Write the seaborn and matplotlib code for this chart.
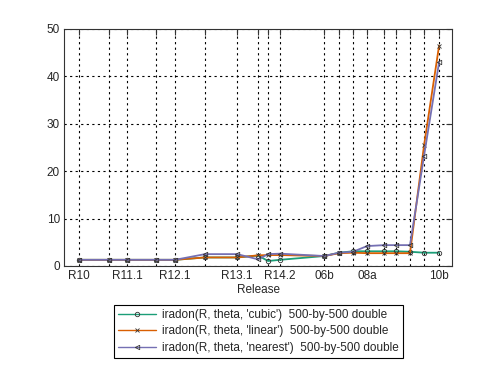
import matplotlib
matplotlib.use("Agg")
import matplotlib.pyplot as plt
import seaborn as sns
import numpy as np

# Release dates (decimal years) for each measured release
release_x = [1998.50, 1999.50, 2000.10, 2001.07, 2001.70, 2002.70, 2003.77,
             2004.47, 2004.80, 2005.20, 2006.67, 2007.17, 2007.63, 2008.10,
             2008.67, 2009.07, 2009.53, 2010.00, 2010.50]
tick_labels = ["R10", "", "R11.1", "", "R12.1", "", "R13.1", "", "", "R14.2",
               "06b", "", "", "08a", "", "", "", "", "10b"]

cubic = [1.3, 1.3, 1.3, 1.3, 1.3, 1.8, 1.8, 2.2, 1.05, 1.3, 2.1, 2.8, 3.1,
         3.1, 3.1, 3.1, 3.0, 2.8, 2.8]
linear = [1.3, 1.3, 1.3, 1.3, 1.3, 1.8, 1.8, 2.25, 2.3, 2.3, 2.1, 2.7, 2.8,
          2.7, 2.7, 2.7, 2.7, 25.5, 46.5]
nearest = [1.3, 1.3, 1.3, 1.3, 1.3, 2.5, 2.5, 1.4, 2.5, 2.6, 2.1, 2.8, 3.0,
           4.2, 4.4, 4.4, 4.4, 23.3, 43.0]

series_names = ["iradon(R, theta, 'cubic')  500-by-500 double",
                "iradon(R, theta, 'linear')  500-by-500 double",
                "iradon(R, theta, 'nearest')  500-by-500 double"]

sns.set_style("white")
plt.rcParams['font.family'] = ['Liberation Sans', 'DejaVu Sans']
plt.rcParams['font.size'] = 8

fig = plt.figure(figsize=(5.0, 3.76), dpi=100)
ax = fig.add_axes([0.128, 0.2926, 0.776, 0.6304])

styles = [
    (cubic, "#1b9e77", "o", 3.2),
    (linear, "#d95f02", "x", 3.2),
    (nearest, "#7570b3", "<", 3.2),
]
for (vals, col, mk, ms), name in zip(styles, series_names):
    sns.lineplot(x=release_x, y=vals, ax=ax, color=col, linewidth=1.3,
                 marker=mk, markersize=ms, markerfacecolor="none",
                 markeredgecolor="#333333", markeredgewidth=0.6,
                 label=name, legend=False)

ax.set_xlim(1998.0, 2010.93)
ax.set_ylim(0, 50)
ax.set_yticks([0, 10, 20, 30, 40, 50])
ax.set_xticks(release_x)
ax.set_xticklabels(tick_labels)
ax.grid(True, color="black", linestyle=(0, (2, 3)), linewidth=0.8)
ax.tick_params(direction="in", length=4, color="#333333", labelsize=8.5,
               top=True, right=True, pad=3)
for s in ax.spines.values():
    s.set_color("#333333")
    s.set_linewidth(0.8)
ax.set_xlabel("Release", fontsize=8.5, labelpad=1)
ax.set_ylabel("")

handles, labels = ax.get_legend_handles_labels()
leg = fig.legend(handles, labels, loc="upper center",
                 bbox_to_anchor=(0.517, 0.19), fancybox=False,
                 edgecolor="black", framealpha=1, fontsize=8.5,
                 handlelength=3.2, labelspacing=0.4, borderpad=0.35,
                 handletextpad=0.5, borderaxespad=0)
leg.get_frame().set_linewidth(0.8)
for h in leg.get_lines():
    h.set_linewidth(1.0)

fig.savefig("out.png", dpi=100)
